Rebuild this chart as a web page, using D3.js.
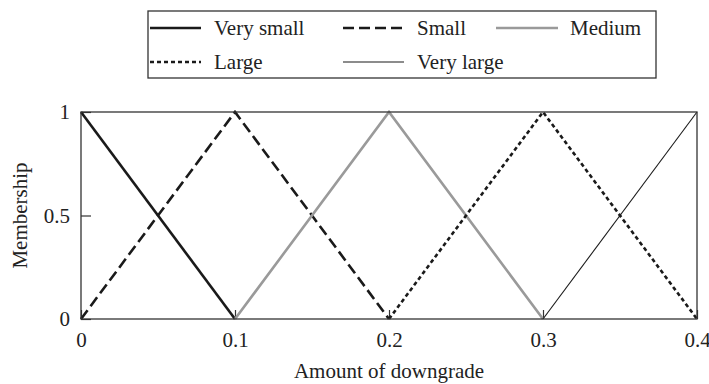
<!DOCTYPE html>
<html>
<head>
<meta charset="utf-8">
<script src="https://cdn.jsdelivr.net/npm/d3@7/dist/d3.min.js"></script>
</head>
<body style="margin:0;background:#fff">
<svg id="chart" width="709" height="384" font-family="Liberation Serif"></svg>
<script>
// Fuzzy membership functions for the amount of downgrade
const seriesNames = ["Very small", "Small", "Medium", "Large", "Very large"];
const verySmall = [[0, 1], [0.1, 0]];
const small     = [[0, 0], [0.1, 1], [0.2, 0]];
const medium    = [[0.1, 0], [0.2, 1], [0.3, 0]];
const large     = [[0.2, 0], [0.3, 1], [0.4, 0]];
const veryLarge = [[0.3, 0], [0.4, 1]];
const xTicks = [0, 0.1, 0.2, 0.3, 0.4];
const yTicks = [0, 0.5, 1];
const xTitle = "Amount of downgrade";
const yTitle = "Membership";

const FONT = "Liberation Serif";
const FS = 21;

const styles = {
  "Very small": { stroke: "#1a1a1a", width: 2.6, dash: null },
  "Small":      { stroke: "#1a1a1a", width: 2.6, dash: "11,5" },
  "Medium":     { stroke: "#9a9a9a", width: 2.6, dash: null },
  "Large":      { stroke: "#1a1a1a", width: 2.6, dash: "4,3" },
  "Very large": { stroke: "#1a1a1a", width: 1.1, dash: null }
};
const seriesData = [verySmall, small, medium, large, veryLarge];

const svg = d3.select("#chart");
const m = { left: 81, right: 12, top: 112, bottom: 65 };
const W = 709, H = 384;

const x = d3.scaleLinear().domain([0, 0.4]).range([m.left, W - m.right]);
const y = d3.scaleLinear().domain([0, 1]).range([H - m.bottom, m.top]);

const fmt = d => (d === 0 ? "0" : d === 1 ? "1" : String(d));

// Axes with inward ticks
const xAxis = svg.append("g")
  .attr("transform", `translate(0,${y(0)})`)
  .call(d3.axisBottom(x).tickValues(xTicks).tickFormat(fmt).tickSizeInner(-9).tickSizeOuter(0).tickPadding(13));
const yAxis = svg.append("g")
  .attr("transform", `translate(${x(0)},0)`)
  .call(d3.axisLeft(y).tickValues(yTicks).tickFormat(fmt).tickSizeInner(-10).tickSizeOuter(0).tickPadding(11));

[xAxis, yAxis].forEach(g => {
  g.attr("font-family", FONT).attr("font-size", FS);
  g.select(".domain").remove();
  g.selectAll(".tick line").attr("stroke", "#333").attr("stroke-width", 1.2);
  g.selectAll(".tick text").attr("fill", "#222").attr("font-family", FONT).attr("font-size", FS);
});
yAxis.selectAll(".tick text").attr("dy", "0.32em");

// Membership curves
const line = d3.line().x(d => x(d[0])).y(d => y(d[1]));
svg.append("g").selectAll("path")
  .data(seriesData)
  .join("path")
  .attr("d", line)
  .attr("fill", "none")
  .attr("stroke", (d, i) => styles[seriesNames[i]].stroke)
  .attr("stroke-width", (d, i) => styles[seriesNames[i]].width)
  .attr("stroke-dasharray", (d, i) => styles[seriesNames[i]].dash)
  .attr("stroke-linejoin", "miter");

// Plot frame
svg.append("rect")
  .attr("x", x(0)).attr("y", y(1))
  .attr("width", x(0.4) - x(0)).attr("height", y(0) - y(1))
  .attr("fill", "none").attr("stroke", "#333").attr("stroke-width", 1.3);

// Axis titles
svg.append("text")
  .attr("x", (x(0) + x(0.4)) / 2).attr("y", 378)
  .attr("text-anchor", "middle")
  .attr("font-family", FONT).attr("font-size", FS).attr("fill", "#222")
  .text(xTitle);
svg.append("text")
  .attr("transform", `translate(27,${(y(0) + y(1)) / 2}) rotate(-90)`)
  .attr("text-anchor", "middle")
  .attr("font-family", FONT).attr("font-size", FS).attr("fill", "#222")
  .text(yTitle);

// Legend
const legend = svg.append("g");
legend.append("rect")
  .attr("x", 148).attr("y", 11).attr("width", 508).attr("height", 67)
  .attr("fill", "#fff").attr("stroke", "#333").attr("stroke-width", 1.3);
const legendPos = [
  { lx: 150, len: 51, tx: 214, row: 0 },
  { lx: 343, len: 61, tx: 417, row: 0 },
  { lx: 496, len: 62, tx: 570, row: 0 },
  { lx: 150, len: 51, tx: 214, row: 1 },
  { lx: 343, len: 61, tx: 417, row: 1 }
];
const rowY = [28, 62];
seriesNames.forEach((name, i) => {
  const p = legendPos[i], s = styles[name];
  const ly = rowY[p.row];
  legend.append("line")
    .attr("x1", p.lx).attr("x2", p.lx + p.len)
    .attr("y1", ly).attr("y2", ly)
    .attr("stroke", s.stroke).attr("stroke-width", s.width)
    .attr("stroke-dasharray", s.dash);
  legend.append("text")
    .attr("x", p.tx).attr("y", ly + 7)
    .attr("font-family", FONT).attr("font-size", FS).attr("fill", "#222")
    .text(name);
});
</script>
</body>
</html>
